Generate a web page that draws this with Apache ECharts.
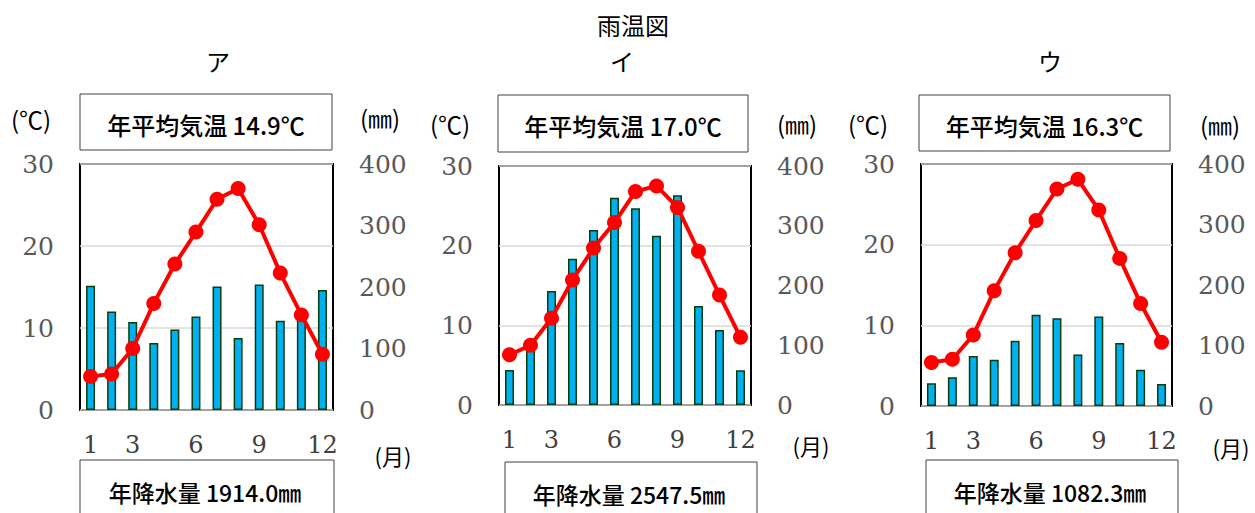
<!DOCTYPE html>
<html><head><meta charset="utf-8">
<script src="https://cdn.jsdelivr.net/npm/echarts@6/dist/echarts.min.js"></script>
<style>html,body{margin:0;padding:0;background:#fff}#c{width:1255px;height:513px}</style>
</head><body><div id="c"></div>
<script>
const months = ['1','2','3','4','5','6','7','8','9','10','11','12'];
const shownMonths = ['1','3','6','9','12'];
const panelNames = ['ア','イ','ウ'];
const tempA = [4.1, 4.4, 7.5, 13.0, 17.8, 21.7, 25.7, 27.0, 22.6, 16.7, 11.6, 6.8];
const precipA = [202, 160, 143, 109, 131, 152, 201, 117, 204, 145, 155, 195];
const tempI = [6.3, 7.5, 10.9, 15.7, 19.7, 22.9, 26.8, 27.5, 24.8, 19.3, 13.8, 8.5];
const precipI = [58.6, 100.4, 190.8, 244.9, 292.9, 347.0, 329.2, 283.4, 351.0, 165.7, 125.5, 58.1];
const tempU = [5.4, 5.8, 8.8, 14.3, 19.0, 23.0, 26.9, 28.1, 24.3, 18.3, 12.7, 7.9];
const precipU = [37.5, 47.5, 82.5, 76.5, 108.0, 151.0, 145.0, 85.0, 148.0, 104.0, 60.0, 36.5];
const avgTempLabels = ['年平均気温 14.9℃','年平均気温 17.0℃','年平均気温 16.3℃'];
const annualPrecipLabels = ['年降水量 1914.0㎜','年降水量 2547.5㎜','年降水量 1082.3㎜'];
const tempTicks = [0, 30, 10];   // min, max, interval
const precipTicks = [0, 400, 100];

const temps = [tempA, tempI, tempU];
const precs = [precipA, precipI, precipU];

// layout (pixels)
const grids = [
  {left: 80, top: 164, width: 253, height: 246},
  {left: 499, top: 166, width: 252, height: 239},
  {left: 921, top: 164, width: 251, height: 242}
];
const topBoxes = [[80,94,252,56],[498,95,250,57],[919,95,251,56]];
const botBoxes = [[80,460,254,70],[505,462,252,70],[926,460,252,70]];
const panelTitleX = [218, 622, 1050];
const celsiusPos = [[31,118],[450,123],[868,123]];
const mmPos = [[380,117],[797,123],[1220,124]];
const monthPos = [[393,455],[811,445],[1231,447]];

const numFont = '"DejaVu Serif", serif';
const jpFont = '"Noto Sans CJK JP", sans-serif';

const xAxis = [], yAxis = [], series = [], graphic = [];
grids.forEach((g, i) => {
  xAxis.push({
    type: 'category', gridIndex: i, data: months, boundaryGap: true,
    axisLine: {show: false}, axisTick: {show: false},
    axisLabel: {interval: (idx, val) => shownMonths.includes(val), margin: 23,
      fontFamily: numFont, fontSize: 24, color: '#404040'}
  });
  yAxis.push({
    type: 'value', gridIndex: i, min: tempTicks[0], max: tempTicks[1], interval: tempTicks[2],
    axisLine: {show: false}, axisTick: {show: false},
    axisLabel: {margin: 26, fontFamily: numFont, fontSize: 25, color: '#595959'},
    splitLine: {show: true, lineStyle: {color: '#d9d9d9', width: 1.5}}
  });
  yAxis.push({
    type: 'value', gridIndex: i, position: 'right', min: precipTicks[0], max: precipTicks[1], interval: precipTicks[2],
    axisLine: {show: false}, axisTick: {show: false},
    axisLabel: {margin: 26, fontFamily: numFont, fontSize: 25, color: '#595959'},
    splitLine: {show: false}
  });
  series.push({
    type: 'bar', xAxisIndex: i, yAxisIndex: i*2+1, data: precs[i], barWidth: 9,
    itemStyle: {color: '#00B0F0', borderColor: '#0b3d0b', borderWidth: 1.5}, z: 2
  });
  series.push({
    type: 'line', xAxisIndex: i, yAxisIndex: i*2, data: temps[i], showAllSymbol: true,
    lineStyle: {color: '#FF0000', width: 4}, itemStyle: {color: '#FF0000'},
    symbol: 'circle', symbolSize: 15, z: 3
  });
  const tb = topBoxes[i], bb = botBoxes[i];
  graphic.push({type: 'rect', shape: {x: tb[0], y: tb[1], width: tb[2], height: tb[3]},
    style: {fill: '#fff', stroke: '#404040', lineWidth: 1}});
  graphic.push({type: 'text', x: tb[0] + tb[2]/2, y: tb[1] + tb[3]/2 + 2,
    style: {text: avgTempLabels[i], font: '500 24px ' + jpFont, fill: '#000', align: 'center', verticalAlign: 'middle'}});
  graphic.push({type: 'rect', shape: {x: bb[0], y: bb[1], width: bb[2], height: bb[3]},
    style: {fill: '#fff', stroke: '#404040', lineWidth: 1}});
  graphic.push({type: 'text', x: bb[0] + bb[2]/2 - 2, y: bb[1] + 32,
    style: {text: annualPrecipLabels[i], font: '500 23px ' + jpFont, fill: '#000', align: 'center', verticalAlign: 'middle'}});
  graphic.push({type: 'text', x: panelTitleX[i], y: 60,
    style: {text: panelNames[i], font: '24px ' + jpFont, fill: '#000', align: 'center', verticalAlign: 'middle'}});
  graphic.push({type: 'text', x: celsiusPos[i][0], y: celsiusPos[i][1],
    style: {text: '(℃)', font: '24px ' + jpFont, fill: '#000', align: 'center', verticalAlign: 'middle'}});
  graphic.push({type: 'text', x: mmPos[i][0], y: mmPos[i][1],
    style: {text: '(㎜)', font: '24px ' + jpFont, fill: '#000', align: 'center', verticalAlign: 'middle'}});
  graphic.push({type: 'text', x: monthPos[i][0], y: monthPos[i][1],
    style: {text: '(月)', font: '22px ' + jpFont, fill: '#000', align: 'center', verticalAlign: 'middle'}});
});
graphic.push({type: 'text', x: 633, y: 24,
  style: {text: '雨温図', font: '24px ' + jpFont, fill: '#000', align: 'center', verticalAlign: 'middle'}});

const chart = echarts.init(document.getElementById('c'), null, {renderer: 'svg'});
chart.setOption({
  backgroundColor: '#fff',
  animation: false,
  grid: grids.map(g => Object.assign({show: true, borderColor: '#000', borderWidth: 2, backgroundColor: 'transparent'}, g)),
  xAxis, yAxis, series, graphic
});
</script></body></html>
